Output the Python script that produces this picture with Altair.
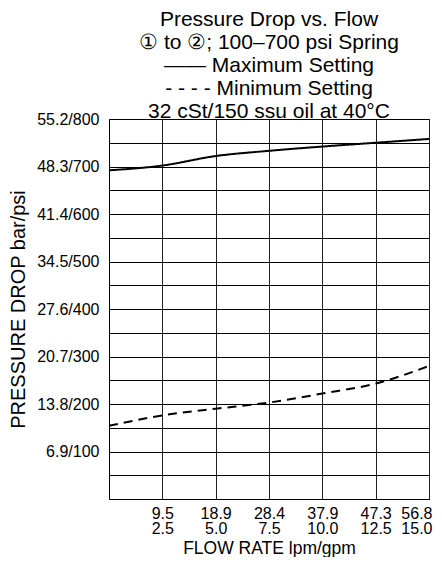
import altair as alt
import pandas as pd

# Data
flow_gpm = [0, 2.5, 5, 7.5, 10, 12.5, 15]
max_psi = [692, 702, 722, 733, 742, 750, 758]
min_psi = [154, 176, 190, 203, 222, 243, 280]

x_ticks = [2.5, 5, 7.5, 10, 12.5, 15]
x_lpm_labels = ["9.5", "18.9", "28.4", "37.9", "47.3", "56.8"]
x_gpm_labels = ["2.5", "5.0", "7.5", "10.0", "12.5", "15.0"]

y_label_psi = [100, 200, 300, 400, 500, 600, 700, 800]
y_label_bar = ["6.9", "13.8", "20.7", "27.6", "34.5", "41.4", "48.3", "55.2"]
y_grid = list(range(0, 801, 50))

title_lines = [
    "Pressure Drop vs. Flow",
    "\u2460 to \u2461; 100\u2013700 psi Spring",
    "\u2014\u2014 Maximum Setting",
    "- - - - Minimum Setting",
    "32 cSt/150 ssu oil at 40\u00b0C",
]

rows = []
for g, p in zip(flow_gpm, max_psi):
    rows.append({"gpm": g, "psi": p, "setting": "Maximum"})
for g, p in zip(flow_gpm, min_psi):
    rows.append({"gpm": g, "psi": p, "setting": "Minimum"})
df = pd.DataFrame(rows)

x_expr = "".join(
    f"datum.value == {t} ? ['{a}', '{b}'] : " for t, a, b in zip(x_ticks, x_lpm_labels, x_gpm_labels)
) + "''"
y_expr = "".join(
    f"datum.value == {p} ? '{b}/{p}' : " for p, b in zip(y_label_psi, y_label_bar)
) + "''"

FONT = "Liberation Sans"

x_enc = alt.X(
    "gpm:Q",
    scale=alt.Scale(domain=[0, 15], nice=False),
    axis=alt.Axis(
        values=x_ticks,
        labelExpr=x_expr,
        title="FLOW RATE lpm/gpm",
        grid=True,
        gridColor="#222222",
        gridOpacity=1,
        gridWidth=1,
        ticks=False,
        domain=False,
        labelPadding=6,
        labelFontSize=16,
        labelLineHeight=15.5,
        labelFlush=True,
        labelFlushOffset=3,
        labelColor="black",
        titleFontSize=17.5,
        titleFontWeight="normal",
        titleColor="black",
        titlePadding=2.5,
        labelFont=FONT,
        titleFont=FONT,
    ),
)
y_enc = alt.Y(
    "psi:Q",
    scale=alt.Scale(domain=[0, 800], nice=False),
    axis=alt.Axis(
        values=y_grid,
        labelExpr=y_expr,
        title="PRESSURE DROP bar/psi",
        grid=True,
        gridColor="black",
        gridOpacity=1,
        gridWidth=1,
        ticks=False,
        domain=False,
        labelPadding=10,
        labelFontSize=16,
        labelColor="black",
        labelBaseline="middle",
        titleFontSize=20,
        titleFontWeight="normal",
        titleColor="black",
        titlePadding=8,
        labelFont=FONT,
        titleFont=FONT,
    ),
)

chart = (
    alt.Chart(df)
    .mark_line(color="black", strokeWidth=2, interpolate="monotone")
    .encode(
        x=x_enc,
        y=y_enc,
        detail="setting:N",
        strokeDash=alt.StrokeDash(
            "setting:N",
            scale=alt.Scale(domain=["Maximum", "Minimum"], range=[[1, 0], [9, 6]]),
            legend=None,
        ),
    )
    .properties(
        width=320,
        height=380,
        title=alt.Title(
            text=title_lines,
            fontSize=21,
            fontWeight="normal",
            font=FONT,
            color="black",
            lineHeight=23,
            anchor="middle",
            offset=-10.5,
        ),
        padding={"left": 0, "top": 0, "right": 0, "bottom": 0},
    )
    .configure_view(stroke="black", strokeWidth=1)
)

chart.save("out.html", embed_options={"renderer": "svg", "actions": False})
